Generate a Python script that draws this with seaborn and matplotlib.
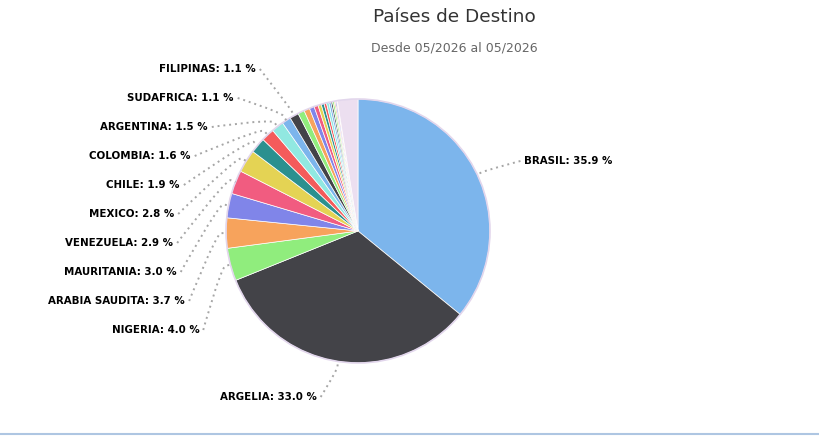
import matplotlib
matplotlib.use("Agg")
import numpy as np
import matplotlib.pyplot as plt
from matplotlib.path import Path
from matplotlib.patches import PathPatch, Circle
from matplotlib.lines import Line2D
import seaborn as sns

# %% Data (percent of total)
paises = ["BRASIL", "ARGELIA", "NIGERIA", "ARABIA SAUDITA", "MAURITANIA",
          "VENEZUELA", "MEXICO", "CHILE", "COLOMBIA", "ARGENTINA",
          "SUDAFRICA", "FILIPINAS"]
porcentajes = [35.9, 33.0, 4.0, 3.7, 3.0, 2.9, 2.8, 1.9, 1.6, 1.5, 1.1, 1.1]
# small destinations without a visible label
menores = [0.8, 0.7, 0.6, 0.5, 0.4, 0.35, 0.3, 0.3, 0.25, 0.2, 0.2, 0.15, 0.15, 0.1]
resto = 2.5

titulo = "Países de Destino"
subtitulo = "Desde 05/2026 al 05/2026"

# Highcharts default palette
HC_COLORS = ["#7cb5ec", "#434348", "#90ed7d", "#f7a35c", "#8085e9",
             "#f15c80", "#e4d354", "#2b908f", "#f45b5b", "#91e8e1"]
COLOR_RESTO = "#ecdff0"

sns.set_theme(style="white")
plt.rcParams["font.family"] = ["DejaVu Sans"]

W, H = 819, 436
fig = plt.figure(figsize=(W / 100, H / 100), dpi=100)
ax = fig.add_axes([0, 0, 1, 1])

CX, CY, R = 358, 205, 132   # pixel space, y up

valores = porcentajes + menores + [resto]
palette = sns.color_palette(HC_COLORS)
colores = [palette[i % len(palette)] for i in range(len(valores) - 1)] + [COLOR_RESTO]

ax.pie(valores, colors=colores, startangle=90, counterclock=False,
       center=(CX, CY), radius=R, frame=True,
       wedgeprops=dict(edgecolor="white", linewidth=0.5))
ax.add_patch(Circle((CX, CY), R, fill=False, edgecolor="#e2d6ec", lw=1.2))
ax.set_xlim(0, W)
ax.set_ylim(0, H)
ax.set_aspect("equal", adjustable="box")
ax.axis("off")

# %% Label layout (Highcharts-like: stack the left labels in slots)
vals = np.array(valores)
mid = 90 - (np.cumsum(vals) - vals / 2) * 3.6
ang = np.radians(mid[:len(paises)])
R_LAB = R + 50
SLOT = 29
TOP, BOTTOM = H - 61, H - 389
TXT_OFF = -8

nat_x = CX + R_LAB * np.cos(ang)
nat_y = CY + R_LAB * np.sin(ang)

izq = [i for i in range(len(paises)) if np.cos(ang[i]) < 0]
izq.sort(key=lambda i: -nat_y[i])


def pav_decreasing(z):
    blocks = []
    for v in z:
        blocks.append([v, 1])
        while len(blocks) > 1 and blocks[-2][0] / blocks[-2][1] < blocks[-1][0] / blocks[-1][1]:
            s, c = blocks.pop()
            blocks[-1][0] += s
            blocks[-1][1] += c
    out = []
    for s, c in blocks:
        out += [s / c] * c
    return np.array(out)


k = np.arange(len(izq))
y_slot = pav_decreasing(nat_y[izq] + SLOT * k) - SLOT * k
y_slot[0] = min(y_slot[0], TOP)
for j in range(1, len(y_slot)):
    y_slot[j] = min(y_slot[j], y_slot[j - 1] - SLOT)
y_slot[-1] = max(y_slot[-1], BOTTOM)
for j in range(len(y_slot) - 2, -1, -1):
    y_slot[j] = max(y_slot[j], y_slot[j + 1] + SLOT)

pos = {}
for j, i in enumerate(izq):
    ty = y_slot[j] + TXT_OFF
    if j == 0 or j == len(izq) - 1:
        tx = nat_x[i] - 14
    else:
        dy = ty - (CY - 4)
        tx = CX - np.sqrt(max((R + 53) ** 2 - dy ** 2, 0))
    pos[i] = (tx, ty, "right")
for i in range(len(paises)):
    if i not in pos:
        pos[i] = (nat_x[i] + 2, nat_y[i] + TXT_OFF, "left")


def conector(i, tx, ty, ha):
    a = ang[i]
    sx = tx + 4 if ha == "right" else tx - 4
    bx, by = CX + (R + 5) * np.cos(a), CY + (R + 5) * np.sin(a)
    lx, ly = CX + R * np.cos(a), CY + R * np.sin(a)
    cx2, cy2 = 2 * bx - lx, 2 * by - ly
    path = Path([(sx, ty), (sx, ty), (cx2, cy2), (bx, by), (lx, ly)],
                [Path.MOVETO, Path.CURVE4, Path.CURVE4, Path.CURVE4, Path.LINETO])
    ax.add_patch(PathPatch(path, fill=False, edgecolor="#a6a6a6",
                           lw=1.4, linestyle=(0, (1, 2))))


for i, nombre in enumerate(paises):
    tx, ty, ha = pos[i]
    conector(i, tx, ty, ha)
    ax.text(tx, ty, f"{nombre}: {porcentajes[i]:.1f} %", ha=ha, va="center",
            fontsize=7.4, fontweight="bold", color="#000000")

# %% Titles and bottom rule
fig.text(454 / W, 1 - 17 / H, titulo, ha="center", va="center",
         fontsize=13.3, color="#333333")
fig.text(454 / W, 1 - 48 / H, subtitulo, ha="center", va="center",
         fontsize=9, color="#666666")
fig.add_artist(Line2D([0, 1], [1 - 434 / H, 1 - 434 / H],
                      transform=fig.transFigure, color="#aec6e2", lw=1.5))

plt.savefig("out.png", dpi=100)
plt.close()
